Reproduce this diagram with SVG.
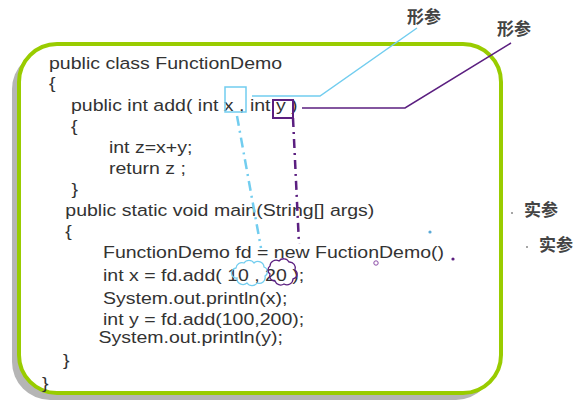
<svg xmlns="http://www.w3.org/2000/svg" width="577" height="402" viewBox="0 0 577 402">
<style>
.code{font-family:"Liberation Sans",Arial,sans-serif;font-size:17px;fill:#333}
.lbl{font-family:"Noto Sans CJK SC","Noto Sans",sans-serif;font-size:17px;font-weight:bold;fill:#444}
.blue{stroke:#72cdef;fill:none}
.purple{stroke:#5b1f80;fill:none}
</style>
<rect width="577" height="402" fill="#fff"/>
<g id="frame">
<rect x="12" y="51" width="482" height="349" rx="38" fill="#b5b5b5"/>
<rect x="19" y="44" width="482" height="349" rx="38" fill="#fff" stroke="#99cc00" stroke-width="4"/>
</g>
<g id="code" transform="scale(1.148,1)">
<text class="code" x="42.7" y="69">public class FunctionDemo</text>
<text class="code" x="42.7" y="89">{</text>
<text class="code" x="61.8" y="111">public int add( int x , int y )</text>
<text class="code" x="61.8" y="132">{</text>
<text class="code" x="94.9" y="153">int z=x+y;</text>
<text class="code" x="94.9" y="174">return z ;</text>
<text class="code" x="62.3" y="195">}</text>
<text class="code" x="56.9" y="216">public static void main(String[] args)</text>
<text class="code" x="56.9" y="237">{</text>
<text class="code" x="89.7" y="258">FunctionDemo fd = new FuctionDemo()</text>
<text class="code" x="89.7" y="281">int x = fd.add( 10 , 20 );</text>
<text class="code" x="89.7" y="304">System.out.println(x);</text>
<text class="code" x="89.7" y="325">int y = fd.add(100,200);</text>
<text class="code" x="85.8" y="343">System.out.println(y);</text>
<text class="code" x="54.9" y="366">}</text>
<text class="code" x="36.6" y="389">}</text>
</g>
<g id="param-x">
<rect class="blue" x="225" y="87" width="21" height="25" stroke-width="1.5"/>
</g>
<g id="param-y">
<rect class="purple" x="273" y="100" width="20" height="18" stroke-width="2"/>
</g>
<g id="arg-10">
<path class="blue" stroke-width="1.3" d="M236,268 a6,6 0 0 1 8,-5 a6,6 0 0 1 10,0 a6,6 0 0 1 10,4 a5,5 0 0 1 1,9 a6,6 0 0 1 -8,7 a6,6 0 0 1 -10,0 a6,6 0 0 1 -10,-5 a5,5 0 0 1 -1,-10 z"/>
</g>
<g id="arg-20">
<path class="purple" stroke-width="1.3" d="M270,266 a6,6 0 0 1 9,-5 a6,6 0 0 1 10,1 a6,6 0 0 1 6,8 a5,5 0 0 1 -2,9 a6,6 0 0 1 -9,5 a6,6 0 0 1 -9,-3 a5,5 0 0 1 -5,-7 a5,5 0 0 1 0,-8 z"/>
</g>
<g id="label-formal-1"><text class="lbl" x="407" y="23">形参</text></g>
<g id="label-formal-2"><text class="lbl" x="497" y="35">形参</text></g>
<g id="label-actual-1"><text class="lbl" x="524" y="216">实参</text></g>
<g id="label-actual-2"><text class="lbl" x="539" y="251">实参</text></g>
<g id="connectors">
<polyline class="blue" stroke-width="1.5" points="252,96 320,96 417,28"/>
<polyline class="purple" stroke-width="1.5" points="302,108 405,108 511,43"/>
<line class="blue" stroke-width="2.5" stroke-dasharray="10,5,2,5" x1="237" y1="116" x2="261" y2="248"/>
<line class="purple" stroke-width="2.5" stroke-dasharray="9,5,2,5" x1="293" y1="118" x2="299" y2="244"/>
</g>
<g id="dots">
<circle cx="430" cy="232" r="1.6" fill="#5aa9d6"/>
<circle cx="376" cy="263" r="2.2" fill="none" stroke="#8a4aa6" stroke-width="1"/>
<circle cx="453" cy="259" r="1.6" fill="#5b1f80"/>
<circle cx="512" cy="213" r="1" fill="#888"/>
<circle cx="527" cy="247" r="1" fill="#888"/>
</g>
</svg>
